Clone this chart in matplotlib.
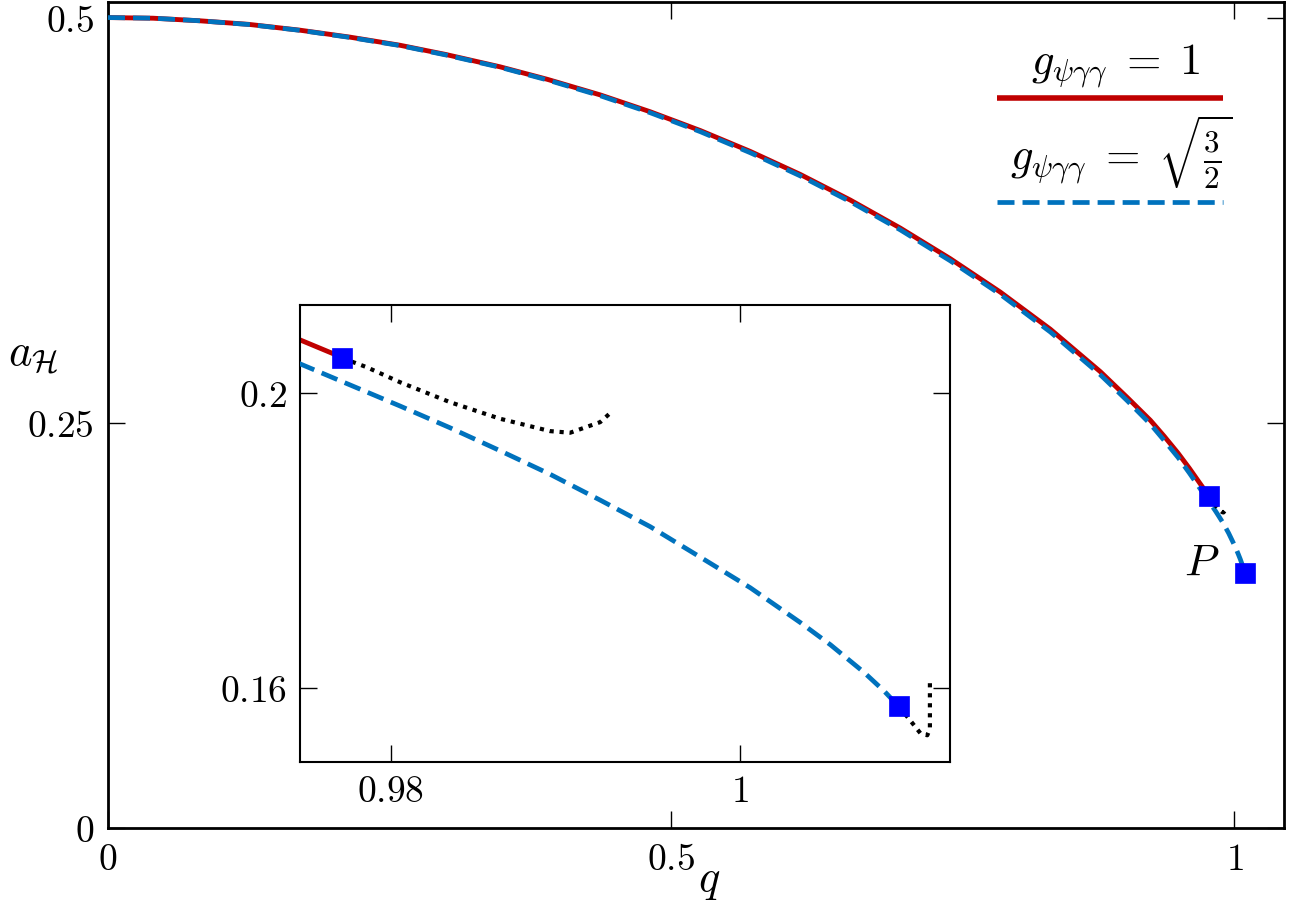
import matplotlib
matplotlib.use('Agg')
import matplotlib.pyplot as plt
from matplotlib.lines import Line2D

plt.rcParams['mathtext.fontset'] = 'cm'
plt.rcParams['font.family'] = ['DejaVu Serif']

# ---------------- data ----------------
# g = 1 branch (solid red)
q_red = [0.0, 0.04, 0.0817, 0.125, 0.1705, 0.215, 0.2593, 0.30, 0.3481, 0.39,
         0.4369, 0.4813, 0.5258, 0.5702, 0.6146, 0.659, 0.7034, 0.7478, 0.7922,
         0.8366, 0.881, 0.905, 0.9254, 0.9375, 0.95, 0.96, 0.9698, 0.9772]
a_red = [0.5, 0.4996, 0.4980, 0.4958, 0.4922, 0.4879, 0.4829, 0.4772, 0.4696,
         0.4619, 0.4523, 0.4419, 0.4303, 0.4174, 0.4032, 0.3874, 0.3701, 0.3512,
         0.3306, 0.3077, 0.2815, 0.2655, 0.2515, 0.2418, 0.2312, 0.2219, 0.2122,
         0.2049]

# g = sqrt(3/2) branch (dashed blue)
q_blue = [0.0, 0.04, 0.0817, 0.125, 0.1705, 0.215, 0.2593, 0.30, 0.3481, 0.39,
          0.4369, 0.4813, 0.5258, 0.5702, 0.6146, 0.659, 0.7034, 0.7478, 0.7922,
          0.8366, 0.881, 0.905, 0.9254, 0.9375, 0.95, 0.96, 0.97479, 0.98052,
          0.98338, 0.98625, 0.98911, 0.99198, 0.99484, 0.99771, 1.00057,
          1.00344, 1.00516, 1.00707, 1.00822, 1.00907]
a_blue = [0.5, 0.4996, 0.4980, 0.4957, 0.4921, 0.4877, 0.4827, 0.4769, 0.4693,
          0.4615, 0.4518, 0.4413, 0.4296, 0.4166, 0.4023, 0.3864, 0.3690, 0.3499,
          0.3292, 0.3060, 0.2796, 0.2635, 0.2492, 0.2392, 0.2286, 0.2190,
          0.20403, 0.19830, 0.19535, 0.19223, 0.18904, 0.18553, 0.18193,
          0.17779, 0.17364, 0.16891, 0.16590, 0.16218, 0.15965, 0.15753]

# black dotted continuations
q_bk1 = [0.97723, 0.97861, 0.98052, 0.98338, 0.98625, 0.98911, 0.99026, 0.99198, 0.99255]
a_bk1 = [0.20479, 0.20357, 0.20153, 0.19882, 0.19657, 0.19489, 0.19467, 0.19611, 0.19733]
q_bk2 = [1.00907, 1.00964, 1.01032, 1.0107, 1.01085, 1.01085]
a_bk2 = [0.15753, 0.15589, 0.15386, 0.15363, 0.1545, 0.16072]

# square markers
q_sq = [0.97723, 1.00907]
a_sq = [0.20479, 0.15753]

# ticks
main_xticks = [0, 0.5, 1]
main_xlabels = ['$0$', '$0.5$', '$1$']
main_yticks = [0, 0.25, 0.5]
main_ylabels = ['$0$', '$0.25$', '$0.5$']
ins_xticks = [0.98, 1.0]
ins_xlabels = ['$0.98$', '$1$']
ins_yticks = [0.16, 0.2]
ins_ylabels = ['$0.16$', '$0.2$']

legend_labels = [r'$g_{\psi\gamma\gamma}\;=\;1$',
                 r'$g_{\psi\gamma\gamma}\;=\;\sqrt{\frac{3}{2}}$']

RED = '#C00000'
BLUE = '#0072BD'
SQ = '#0000FF'

W, H = 1292, 908
fig = plt.figure(figsize=(W / 100, H / 100), dpi=100)
ax = fig.add_axes([108 / W, 1 - 828 / H, 1176 / W, 826 / H])


def draw_curves(a):
    a.plot(q_red, a_red, color=RED, lw=3.5, solid_capstyle='butt',
           solid_joinstyle='round', zorder=2)
    a.plot(q_blue, a_blue, color=BLUE, lw=3.4, dashes=(3.6, 1.7),
           dash_capstyle='butt', dash_joinstyle='round', zorder=3)
    a.plot(q_bk1, a_bk1, color='k', lw=3.0, dashes=(1, 1.4),
           dash_capstyle='butt', zorder=3)
    a.plot(q_bk2, a_bk2, color='k', lw=3.0, dashes=(1, 1.4),
           dash_capstyle='butt', zorder=3)
    a.plot(q_sq, a_sq, 's', color=SQ, ms=14.5, mec=SQ, mew=0.5, zorder=5)


draw_curves(ax)
ax.set_xlim(0, 1.044)
ax.set_ylim(0, 0.5096)
ax.set_xticks(main_xticks)
ax.set_xticklabels(main_xlabels)
ax.set_yticks(main_yticks)
ax.set_yticklabels(main_ylabels)
ax.tick_params(direction='in', length=12, width=1.0, top=True, right=True,
               labelsize=27, pad=10)
for s in ax.spines.values():
    s.set_linewidth(2.0)

ax.set_xlabel('$q$', fontsize=32, ha='center', va='center')
ax.xaxis.set_label_coords(0.511, -0.064)
ax.set_ylabel(r'$a_{\mathcal{H}}$', fontsize=32, rotation=0, ha='center', va='center')
ax.yaxis.set_label_coords(-0.064, 0.573)

ax.annotate('$P$', xy=(q_sq[1], a_sq[1]), xytext=(-31, 6.5),
            textcoords='offset points', ha='center', va='center', fontsize=32)

# legend (text above line)
ax.text(0.857, 0.913, legend_labels[0], transform=ax.transAxes, ha='center',
        va='baseline', fontsize=32)
ax.add_line(Line2D([0.756, 0.948], [0.884, 0.884], transform=ax.transAxes,
                   color=RED, lw=4.0, solid_capstyle='butt'))
ax.text(0.862, 0.797, legend_labels[1], transform=ax.transAxes, ha='center',
        va='baseline', fontsize=32)
ax.add_line(Line2D([0.756, 0.948], [0.758, 0.758], transform=ax.transAxes,
                   color=BLUE, lw=3.4, dashes=(3.6, 1.7), dash_capstyle='butt'))

# inset
ins = fig.add_axes([300 / W, 1 - 762 / H, 650 / W, 457 / H])
draw_curves(ins)
ins.set_xlim(0.9748, 1.0120)
ins.set_ylim(0.150, 0.212)
ins.set_xticks(ins_xticks)
ins.set_xticklabels(ins_xlabels)
ins.set_yticks(ins_yticks)
ins.set_yticklabels(ins_ylabels)
ins.tick_params(direction='in', length=12, width=1.0, top=True, right=True,
                labelsize=27, pad=9)
for s in ins.spines.values():
    s.set_linewidth(1.5)

fig.savefig('out.png', dpi=100)
